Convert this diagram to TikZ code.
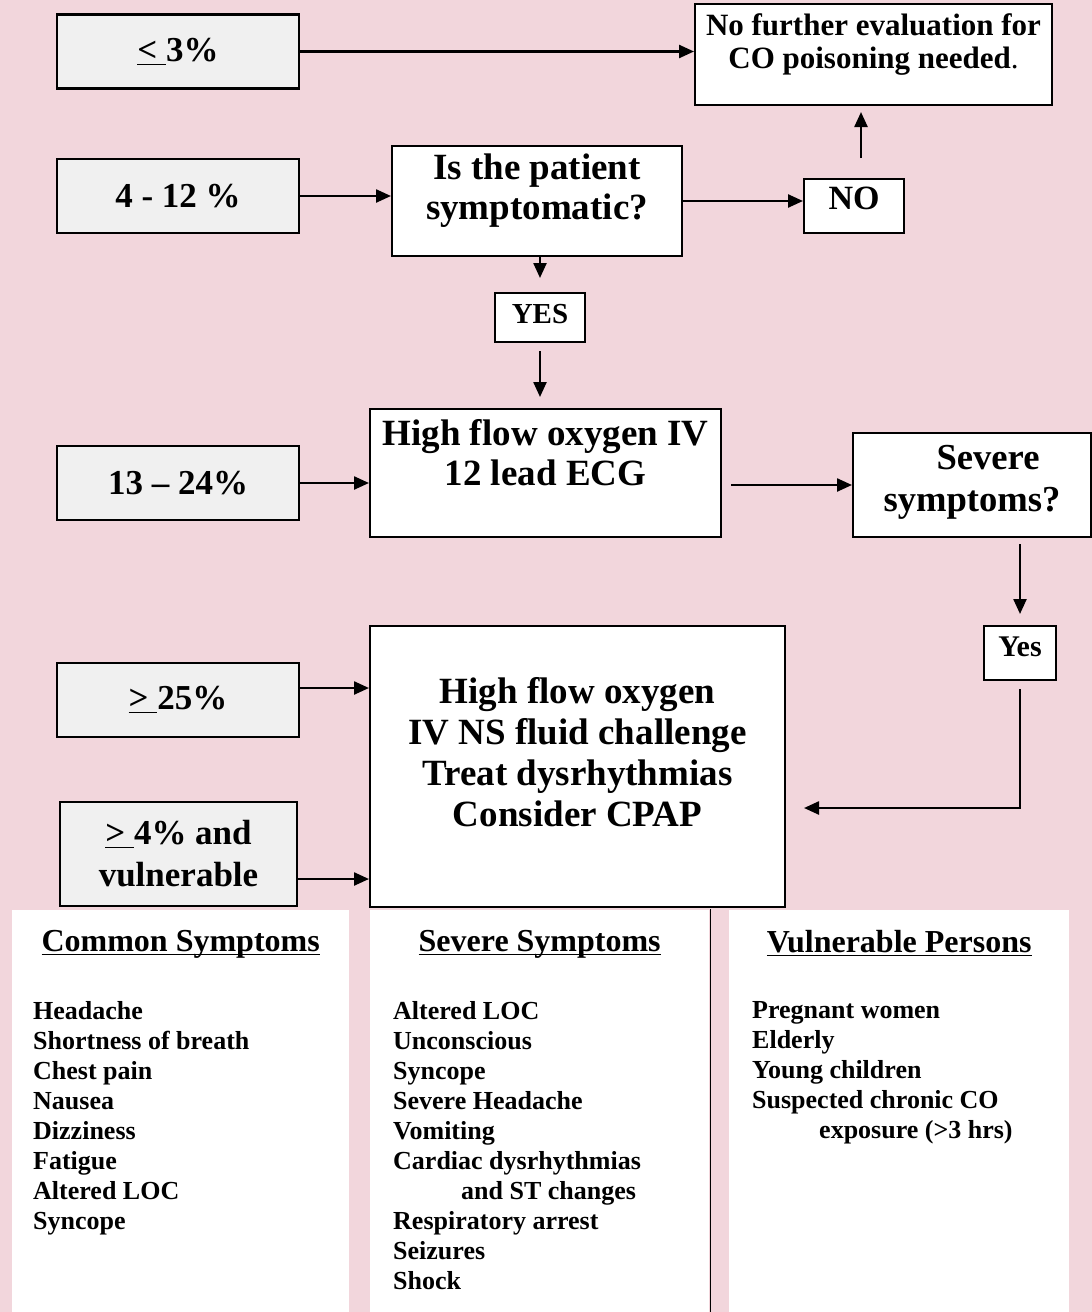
\documentclass[tikz,border=0pt]{standalone}
\usepackage{fontspec}
\setmainfont{Liberation Serif}
\usepackage{tikz}
\usetikzlibrary{arrows.meta,positioning}
\definecolor{bgpink}{RGB}{242,214,220}
\definecolor{boxgray}{RGB}{240,240,240}
\tikzstyle{lvl}=[draw=black, line width=1.4pt, fill=boxgray, minimum width=121pt, minimum height=37pt, inner sep=0pt, align=center, font=\fontsize{17.5}{21}\selectfont\bfseries]
\tikzstyle{stepbox}=[draw=black, line width=1pt, fill=white, inner sep=0pt]
\tikzstyle{panel}=[fill=white, inner sep=0pt, minimum height=201.5pt, anchor=north west]
\tikzstyle{head}=[inner sep=0pt, font=\fontsize{16}{19}\selectfont\bfseries]
\tikzstyle{items}=[inner sep=0pt, align=left, anchor=north west, font=\fontsize{13}{15}\selectfont\bfseries]
\newcommand{\boxtext}[4]{\parbox[c][#2][t]{#1}{\centering\rule{0pt}{#3}#4}}
\newcommand{\headline}[1]{\underline{\raisebox{0pt}[\height][0pt]{#1}}}

\begin{document}
\begin{tikzpicture}[x=0.5pt, y=-0.5pt, line width=1.2pt, >={Triangle[length=7.5pt,width=6.5pt]}]
\useasboundingbox (0,0) rectangle (1092,1312);
\fill[bgpink] (0,0) rectangle (1092,1312);
%
  \node[panel, minimum width=168.5pt] (commonpanel) at (11,909) {};
  \node[panel, minimum width=169.5pt] (severepanel) at (369,909) {};
  \node[panel, minimum width=170pt] (vulnpanel) at (728,909) {};
  \draw[line width=0.5pt] (severepanel.north east) -- (severepanel.south east);
%
  \node[head] (commonhead) [below=10pt of commonpanel.north] {\headline{Common Symptoms}};
  \node[head] (severehead) [below=10pt of severepanel.north] {\headline{Severe Symptoms}};
  \node[head] (vulnhead) [below=10pt of vulnpanel.north] {\headline{Vulnerable Persons}};
%
  \node[items] (commonlist) at (32,1000) {Headache\\Shortness of breath\\Chest pain\\Nausea\\Dizziness\\Fatigue\\Altered LOC\\Syncope};
  \node[items] (severelist) at (392,1000) {Altered LOC\\Unconscious\\Syncope\\Severe Headache\\Vomiting\\Cardiac dysrhythmias\\\hspace*{34pt}and ST changes\\Respiratory arrest\\Seizures\\Shock};
  \node[items] (vulnlist) at (751,1000) {Pregnant women\\Elderly\\Young children\\Suspected chronic CO\\\hspace*{33.5pt}exposure (>3 hrs)};
%
  \node[lvl] (le3) at (178,51.5) {\underline{<\ }3\%};
  \node[lvl] (r4) at (178,196) {4 - 12 \%};
  \node[lvl] (r13) at (178,483) {13 -- 24\%};
  \node[lvl] (ge25) at (178,700) {\underline{>\ }25\%};
  \node[lvl, minimum width=118.5pt, minimum height=52pt] (ge4) at (178.5,854) {\underline{>\ }4\% and\\vulnerable};
%
  \node[stepbox, font=\fontsize{15.5}{16.5}\selectfont\bfseries] (nofurther) at (873.5,54.5) {\boxtext{178.5pt}{50.5pt}{15.5pt}{No further evaluation for\\CO poisoning needed\textmd{.}}};
  \node[stepbox, font=\fontsize{18.5}{20}\selectfont\bfseries] (patient) at (537,201) {\boxtext{145pt}{55pt}{16.5pt}{Is the patient\\symptomatic?}};
  \node[stepbox, font=\fontsize{17}{20}\selectfont\bfseries] (no) at (854,206) {\boxtext{50pt}{27pt}{15pt}{NO}};
  \node[stepbox, font=\fontsize{14.5}{17}\selectfont\bfseries] (yes) at (540,317.5) {\boxtext{45pt}{24.5pt}{15.2pt}{YES}};
  \node[stepbox, font=\fontsize{18.5}{20}\selectfont\bfseries] (oxy) at (545.5,473) {\boxtext{175.5pt}{64pt}{18pt}{High flow oxygen IV\\12 lead ECG}};
  \node[stepbox, font=\fontsize{18.3}{21}\selectfont\bfseries] (severe) at (972,485) {\boxtext{119pt}{52pt}{18pt}{\hspace*{16pt}Severe\\symptoms?}};
  \node[stepbox, font=\fontsize{15}{17}\selectfont\bfseries] (yes2) at (1020,653) {\boxtext{36pt}{27pt}{15pt}{Yes}};
  \node[stepbox, font=\fontsize{18.5}{20.5}\selectfont\bfseries] (treat) at (577.5,766.5) {\boxtext{207.5pt}{140.5pt}{38.5pt}{High flow oxygen\\IV NS fluid challenge\\Treat dysrhythmias\\Consider CPAP}};
%
  \draw[->] (le3.east) -- (le3.east -| nofurther.west);
  \draw[->] (r4.east) -- (r4.east -| patient.west);
  \draw[->] (patient.east) -- (patient.east -| no.west);
  \draw[->, shorten <=10pt, shorten >=3pt] ([xshift=3.5pt]no.north) -- ([xshift=3.5pt]no.north |- nofurther.south);
  \draw[->, shorten >=7pt] (yes.north |- patient.south) -- (yes.north);
  \draw[->, shorten <=4pt, shorten >=5.5pt] (yes.south) -- (yes.south |- oxy.north);
  \draw[->] (r13.east) -- (r13.east -| oxy.west);
  \draw[->, shorten <=4.5pt] (severe.west -| oxy.east) -- (severe.west);
  \draw[->, shorten <=3pt, shorten >=5.5pt] (yes2.north |- severe.south) -- (yes2.north);
  \coordinate (back) at (804,808);
  \draw[->, shorten <=4pt] (yes2.south) |- (back);
  \draw[->] ([yshift=6pt]ge25.east) -- ([yshift=6pt]ge25.east -| treat.west);
  \draw[->] ([yshift=-12.5pt]ge4.east) -- ([yshift=-12.5pt]ge4.east -| treat.west);
\end{tikzpicture}
\end{document}
